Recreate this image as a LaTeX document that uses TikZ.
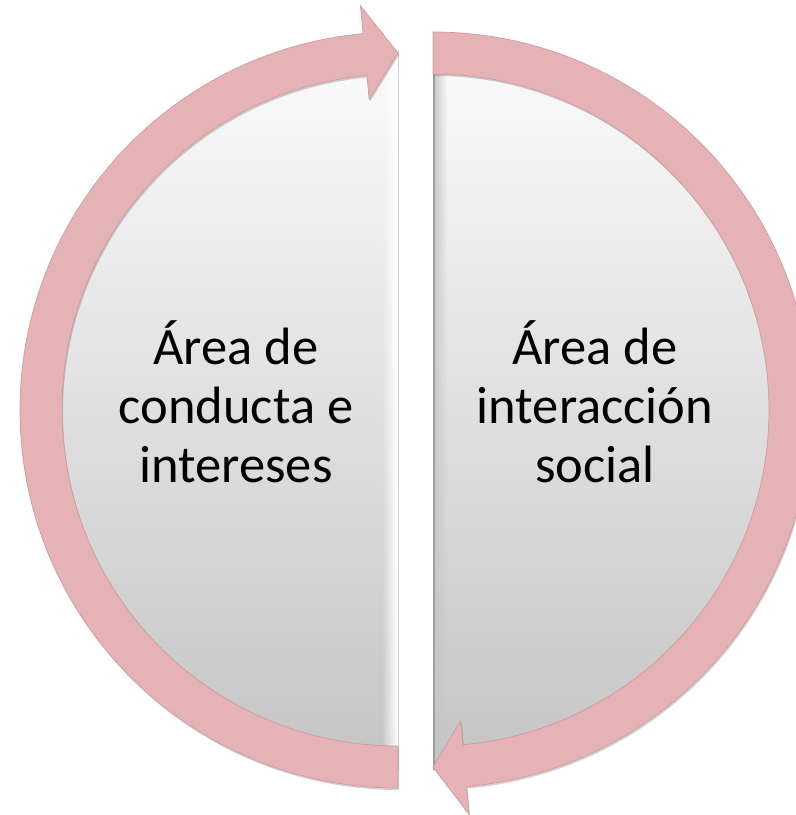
\documentclass[tikz,border=0pt]{standalone}
\usepackage{fontspec}
\setmainfont{Carlito}
\usetikzlibrary{fadings,shadows,calc}
\definecolor{pinkband}{RGB}{229,179,182}
\definecolor{pinkedge}{RGB}{208,155,159}
\definecolor{gtop}{RGB}{251,251,251}
\definecolor{gmid}{RGB}{234,234,234}
\definecolor{gbot}{RGB}{196,196,196}
\tikzfading[name=fadeR, left color=transparent!100, right color=transparent!0]
\tikzfading[name=fadeL, left color=transparent!0, right color=transparent!100]
\begin{document}
\begin{tikzpicture}[x=1pt,y=1pt,
  halfdisc/.style={shade, top color=gtop, middle color=gmid, bottom color=gbot},
  arrowband/.style={fill=pinkband, draw=pinkedge, line width=0.7pt,
    drop shadow={shadow xshift=1pt, shadow yshift=-2pt, fill=black, opacity=0.18}},
  lbl/.style={font=\fontsize{52.5}{59}\selectfont, align=center, inner sep=0pt, text=black}]
\useasboundingbox (0,0) rectangle (796,-815);
\clip (0,0) rectangle (796,-815);
\coordinate (cl) at (398,-410);
\coordinate (cr) at (433,-410);
% left half disc
\path[halfdisc] (398,-50) arc[start angle=90, end angle=270, radius=360] -- cycle;
\fill[white, path fading=fadeR] (382,-52) rectangle (397.5,-768);
\draw[gray!35, line width=1pt] (398,-50) -- (398,-770);
% right half disc
\path[halfdisc] (433,-50) arc[start angle=90, end angle=-90, radius=360] -- cycle;
\fill[gray!45, path fading=fadeL] (433,-52) rectangle (447,-768);
\draw[gray!75, line width=1.6pt] (433.8,-50) -- (433.8,-770);
% left arrow (bottom -> up left side -> top, pointing right)
\path[arrowband] ($(cl)+(270:378)$) arc[start angle=270, end angle=95.3, radius=378]
  -- ($(cl)+(95.3:406)$) -- ($(cl)+(90:357)$) -- ($(cl)+(95.3:312)$)
  -- ($(cl)+(95.3:336)$) arc[start angle=95.3, end angle=270, radius=336] -- cycle;
% right arrow (top -> down right side -> bottom, pointing left)
\path[arrowband] ($(cr)+(90:378)$) arc[start angle=90, end angle=-84.9, radius=378]
  -- ($(cr)+(-84.9:406)$) -- ($(cr)+(-90:357)$) -- ($(cr)+(-84.9:312)$)
  -- ($(cr)+(-84.9:336)$) arc[start angle=-84.9, end angle=90, radius=336] -- cycle;
% labels
\node[lbl] (t1) at (236,-402) {Área de\\conducta e\\intereses};
\node[lbl] (t2) at (595,-402) {Área de\\interacción\\social};
\end{tikzpicture}
\end{document}
